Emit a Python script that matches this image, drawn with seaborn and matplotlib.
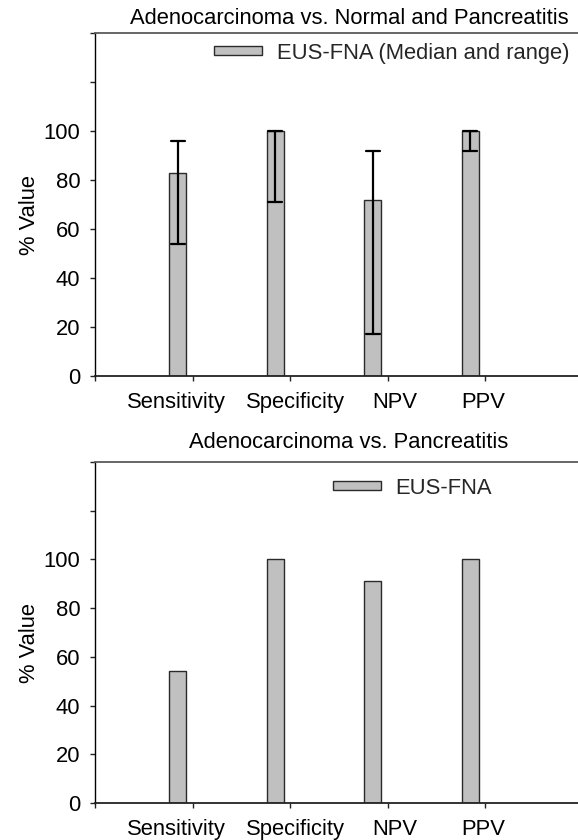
import matplotlib
matplotlib.use("Agg")
import matplotlib.pyplot as plt
from matplotlib.patches import Patch
import numpy as np
import pandas as pd
import seaborn as sns

# Diagnostic accuracy of EUS-FNA (%)
metrics = ["Sensitivity", "Specificity", "NPV", "PPV"]

# Adenocarcinoma vs. normal and pancreatitis: median with range
median_all = [83, 100, 72, 100]
range_low_all = [54, 71, 17, 92]
range_high_all = [96, 100, 92, 100]

# Adenocarcinoma vs. pancreatitis: single values
value_panc = [54, 100, 91, 100]

title_all = "Adenocarcinoma vs. Normal and Pancreatitis"
title_panc = "Adenocarcinoma vs. Pancreatitis"
legend_all = "EUS-FNA (Median and range)"
legend_panc = "EUS-FNA"
y_label = "% Value"
y_ticks = [0, 20, 40, 60, 80, 100, 120, 140]
y_tick_labels = ["0", "20", "40", "60", "80", "100", "", ""]

sns.set_theme(style="white")
plt.rcParams["font.family"] = ["Liberation Sans", "DejaVu Sans"]

FS = 15.8
BAR_FILL = "#c0c0c0"
BAR_EDGE = "#2a2a2a"

# long-form table: low / median / high per metric, summarised by median and min-max
df_all = pd.DataFrame({
    "metric": np.repeat(metrics, 3),
    "value": np.ravel(np.column_stack([range_low_all, median_all, range_high_all])),
})
df_panc = pd.DataFrame({"metric": metrics, "value": value_panc})

W, H = 578, 840
fig = plt.figure(figsize=(W / 100, H / 100), dpi=100)


def add_axes_px(left, top, right, bottom):
    return fig.add_axes([left / W, 1 - bottom / H, (right - left) / W, (bottom - top) / H])


ax1 = add_axes_px(95, 33, 603, 376)
ax2 = add_axes_px(95, 462, 603, 803)

sns.barplot(data=df_all, x="metric", y="value", order=metrics, ax=ax1,
            estimator="median", errorbar=lambda v: (v.min(), v.max()),
            width=0.175, color=BAR_FILL, saturation=1, edgecolor=BAR_EDGE,
            linewidth=1.0, capsize=0.145,
            err_kws={"color": "black", "linewidth": 1.6})
sns.barplot(data=df_panc, x="metric", y="value", order=metrics, ax=ax2,
            errorbar=None, width=0.175, color=BAR_FILL, saturation=1,
            edgecolor=BAR_EDGE, linewidth=1.0)

x_left = -0.85
label_shift = [-0.02, 0.21, 0.22, 0.13]

for ax, title, pad, leg_text, leg_xy in [
    (ax1, title_all, 6.5, legend_all, (214, 53)),
    (ax2, title_panc, 10.0, legend_panc, (333, 488)),
]:
    ax.set_xlim(x_left, x_left + 508 / 97.5)
    ax.set_ylim(0, 140)
    ax.set_yticks(y_ticks, labels=y_tick_labels)
    # category boundaries as tick marks, names under the bars
    ax.set_xticks([x_left + k for k in range(6)], labels=[""] * 6)
    ax.set_xticks([i + s for i, s in enumerate(label_shift)], labels=metrics, minor=True)
    ax.tick_params(axis="x", which="major", direction="out", bottom=True,
                   length=3.6, width=1.0, color="#222222")
    ax.tick_params(axis="x", which="minor", bottom=True, length=0, pad=11.5,
                   labelsize=FS, labelcolor="black")
    ax.tick_params(axis="y", direction="out", left=True, length=3.6, width=1.0,
                   color="#222222", pad=7, labelsize=FS, labelcolor="black")
    ax.set_xlabel("")
    ax.set_ylabel(y_label, fontsize=FS, color="black")
    ax.yaxis.set_label_coords(-0.108, 0.47)
    ax.set_title(title, fontsize=FS, pad=pad, color="black")

    ax.spines["right"].set_visible(False)
    ax.spines["top"].set_color("#5a5a5a")
    ax.spines["top"].set_linewidth(1.3)
    ax.spines["left"].set_color("black")
    ax.spines["left"].set_linewidth(1.0)
    ax.spines["bottom"].set_color("#222222")
    ax.spines["bottom"].set_linewidth(1.3)

    handle = Patch(facecolor=BAR_FILL, edgecolor=BAR_EDGE, linewidth=1.0)
    ax.legend([handle], [leg_text], loc="center left",
              bbox_to_anchor=(leg_xy[0] / W, 1 - leg_xy[1] / H),
              bbox_transform=fig.transFigure, frameon=False, fontsize=FS,
              borderpad=0, borderaxespad=0, handlelength=2.2,
              handleheight=0.27, handletextpad=0.65)

fig.savefig("out.png", dpi=100)
